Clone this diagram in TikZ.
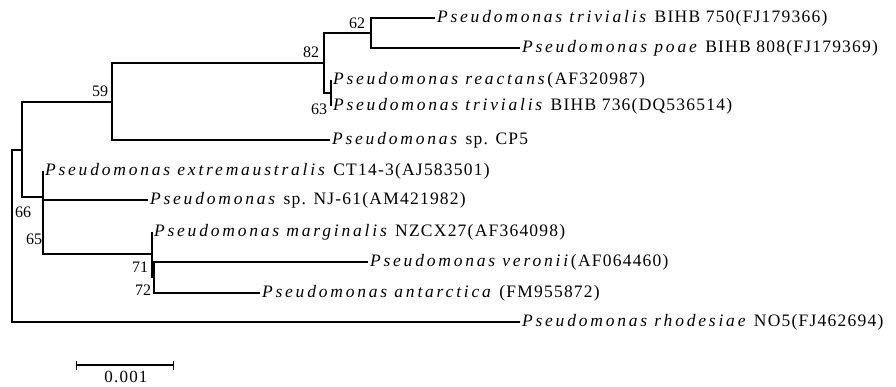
\documentclass[tikz,border=0pt]{standalone}
\usepackage{fontspec}
\setmainfont{Liberation Serif}[LetterSpace=7,ItalicFeatures={LetterSpace=16}]
\newfontfamily\bootfont{Liberation Serif}
\usetikzlibrary{arrows.meta}
\newcommand{\taxon}[2]{\textit{#1}#2}

\begin{document}
\begin{tikzpicture}[x=1pt,y=-1pt,line width=1.1pt,
  leaf/.style={anchor=west,inner sep=1.5pt,font=\fontsize{17.5}{19}\selectfont},
  boot/.style={inner sep=0pt,font=\bootfont\fontsize{16}{16}\selectfont}]
  \useasboundingbox (0,0) rectangle (896,387);
  % internal nodes
  \coordinate (root) at (12,236);
  \coordinate (n1) at (22,150);
  \coordinate (n59) at (112,102);
  \coordinate (n82) at (324,63);
  \coordinate (n62) at (371,33);
  \coordinate (n63) at (331,93);
  \coordinate (n43) at (43,197);
  \coordinate (n71) at (152,254);
  \coordinate (n72) at (154,277.5);
  % tips
  \node[leaf] (triv750) at (435,18) {\taxon{Pseudomonas trivialis}{ BIHB 750(FJ179366)}};
  \node[leaf] (poae) at (520,48) {\taxon{Pseudomonas poae}{ BIHB 808(FJ179369)}};
  \node[leaf] (react) at (331,80) {\taxon{Pseudomonas reactans}{(AF320987)}};
  \node[leaf] (triv736) at (331,106) {\taxon{Pseudomonas trivialis}{ BIHB 736(DQ536514)}};
  \node[leaf] (cp5) at (330,140) {\taxon{Pseudomonas}{ sp. CP5}};
  \node[leaf] (extr) at (43,171) {\taxon{Pseudomonas extremaustralis}{ CT14-3(AJ583501)}};
  \node[leaf] (nj61) at (148,200) {\taxon{Pseudomonas}{ sp. NJ-61(AM421982)}};
  \node[leaf] (marg) at (152,232) {\taxon{Pseudomonas marginalis}{ NZCX27(AF364098)}};
  \node[leaf] (veron) at (368,262) {\taxon{Pseudomonas veronii}{(AF064460)}};
  \node[leaf] (antarc) at (260,293) {\taxon{Pseudomonas antarctica}{ (FM955872)}};
  \node[leaf] (rhod) at (520,322) {\taxon{Pseudomonas rhodesiae}{ NO5(FJ462694)}};
  % branches
  \draw (n1) -| (root) |- (rhod.west);
  \draw (n59) -| (n1) |- (n43);
  \draw (n82) -| (n59) |- (cp5.west);
  \draw (n62) -| (n82) |- (n63);
  \draw (triv750.west) -| (n62) |- (poae.west);
  \draw (react.west) -| (n63) |- (triv736.west);
  \draw (extr.west) -| (n43) |- (n71);
  \draw (n43 |- nj61.west) -- (nj61.west);
  \draw (marg.west) -| (n71) |- (n72);
  \draw (veron.west) -| (n72) |- (antarc.west);
  % bootstrap values
  \node[boot] (b62) at (357,23) {62};
  \node[boot] (b82) at (311,52) {82};
  \node[boot] (b63) at (319,109) {63};
  \node[boot] (b59) at (100,91) {59};
  \node[boot] (b66) at (23,212) {66};
  \node[boot] (b65) at (34,239) {65};
  \node[boot] (b71) at (140,267) {71};
  \node[boot] (b72) at (143,290) {72};
  % scale bar
  \coordinate (sbl) at (76,365);
  \coordinate (sbr) at (174,365);
  \draw[{Bar[width=9pt]}-{Bar[width=9pt]}] (sbl) -- (sbr);
  \node[inner sep=0pt,font=\fontsize{17}{17}\selectfont] (sblab) at (126,377) {0.001};
\end{tikzpicture}
\end{document}
